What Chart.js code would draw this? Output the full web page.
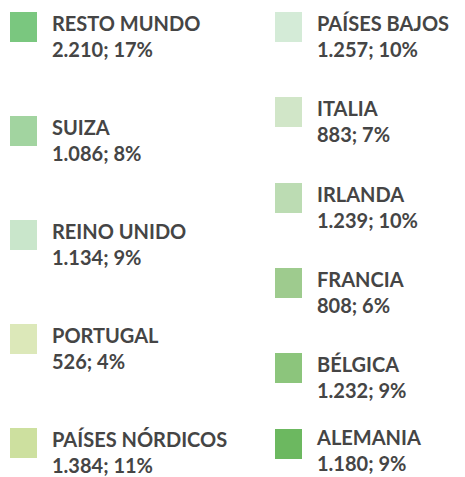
<!DOCTYPE html>
<html>
<head>
<meta charset="utf-8">
<script src="https://cdn.jsdelivr.net/npm/chart.js@4"></script>
<style>
  body { margin: 0; background: #fff; font-family: Lato, "Open Sans", sans-serif; }
  #wrap { position: relative; width: 465px; height: 477px; overflow: hidden; }
  #chartBox { position: absolute; left: 0; top: 0; width: 10px; height: 10px; visibility: hidden; }
  #legend { position: absolute; left: 0; top: 0; width: 465px; height: 477px; }
  .col { position: absolute; top: 12px; }
  .col.left { left: 10px; }
  .col.right { left: 275px; }
  .item { display: flex; align-items: flex-start; }
  .left .item { height: 104px; }
  .right .item { height: 85.3px; }
  .right .item:last-child { margin-top: -9px; }
  .right .item:last-child .txt { margin-top: -1px; }
  .box { width: 27px; height: 30px; flex: none; }
  .txt { margin-left: 15px; margin-top: 2px; color: #454545; font-weight: 700; font-size: 20px; line-height: 18px; white-space: nowrap; }
  .txt span { display: block; }
  .txt span + span { margin-top: 8px; }
</style>
</head>
<body>
<div id="wrap">
  <div id="chartBox"><canvas id="chart"></canvas></div>
  <div id="legend"></div>
</div>
<script>
const categories = ['RESTO MUNDO', 'SUIZA', 'REINO UNIDO', 'PORTUGAL', 'PAÍSES NÓRDICOS',
  'PAÍSES BAJOS', 'ITALIA', 'IRLANDA', 'FRANCIA', 'BÉLGICA', 'ALEMANIA'];
const values = [2210, 1086, 1134, 526, 1384, 1257, 883, 1239, 808, 1232, 1180];
const percents = [17, 8, 9, 4, 11, 10, 7, 10, 6, 9, 9];
const colors = ['#7ac77f', '#a2d4a0', '#c9e6cb', '#dce8b9', '#cde09f',
  '#d4ebd7', '#d1e6c8', '#bcdcb3', '#9ecb8e', '#8cc57c', '#6cb860'];
const leftCount = 5;

function fmt(n) {
  return String(n).replace(/\B(?=(\d{3})+(?!\d))/g, '.');
}

const htmlLegend = {
  id: 'htmlLegend',
  afterUpdate(chart) {
    const root = document.getElementById('legend');
    root.innerHTML = '';
    const left = document.createElement('div');
    left.className = 'col left';
    const right = document.createElement('div');
    right.className = 'col right';
    root.appendChild(left);
    root.appendChild(right);
    const items = chart.options.plugins.legend.labels.generateLabels(chart);
    const data = chart.data.datasets[0].data;
    items.forEach((it, i) => {
      const row = document.createElement('div');
      row.className = 'item';
      const box = document.createElement('div');
      box.className = 'box';
      box.style.background = it.fillStyle;
      const txt = document.createElement('div');
      txt.className = 'txt';
      const l1 = document.createElement('span');
      l1.textContent = it.text;
      const l2 = document.createElement('span');
      l2.textContent = fmt(data[it.index]) + '; ' + percents[it.index] + '%';
      txt.appendChild(l1);
      txt.appendChild(l2);
      row.appendChild(box);
      row.appendChild(txt);
      (i < leftCount ? left : right).appendChild(row);
    });
  }
};

new Chart(document.getElementById('chart'), {
  type: 'doughnut',
  data: {
    labels: categories,
    datasets: [{ data: values, backgroundColor: colors, borderWidth: 0 }]
  },
  options: {
    responsive: true,
    maintainAspectRatio: false,
    animation: false,
    plugins: { legend: { display: false }, tooltip: { enabled: false } }
  },
  plugins: [htmlLegend]
});
</script>
</body>
</html>
